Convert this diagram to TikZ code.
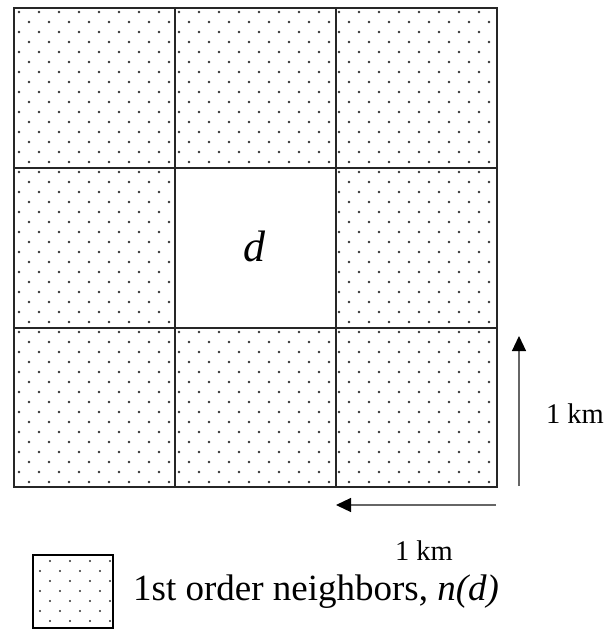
\documentclass[tikz,border=0pt]{standalone}
\usepackage{fontspec}
\setmainfont{Liberation Serif}
\usetikzlibrary{arrows.meta}
\begin{document}
\begin{tikzpicture}[x=1pt, y=-1pt,
  grid line/.style={line width=2pt, black!85},
  dot/.style={fill=black!80},
  scale arrow/.style={line width=1.2pt, black!60, -{Triangle[length=15pt, width=14pt, black]}}]
  \useasboundingbox (0,0) rectangle (614,630);

  % Define grid corners and scale arrow ends
  \coordinate (nw) at (14,8);
  \coordinate (se) at (497,487);
  \coordinate (v0) at (519,486);
  \coordinate (v1) at (519,336);
  \coordinate (h0) at (496,505);
  \coordinate (h1) at (336,505);

  % Dotted fill of the neighbor cells
  \foreach \k in {0,...,47} {
    \pgfmathsetmacro\yy{12+10*\k}
    \pgfmathsetmacro\xo{mod(\k,2)==0 ? 19 : 29}
    \foreach \j in {0,...,23}
      \fill[dot] ({\xo+20*\j},\yy) circle (1.3pt);
  }

  % Central cell d
  \fill[white] (175,168) rectangle (336,328);
  \node[font=\fontsize{44}{44}\selectfont\itshape] (d) at (254,246) {d};

  % Draw the grid lines
  \draw[grid line] (nw) rectangle (se);
  \foreach \x in {175,336} \draw[grid line] (\x,8) -- (\x,487);
  \foreach \y in {168,328} \draw[grid line] (14,\y) -- (497,\y);

  % Scale arrows with labels
  \draw[scale arrow] (v0) -- (v1);
  \draw[scale arrow] (h0) -- (h1);
  \node[anchor=base, font=\fontsize{28.5}{28.5}\selectfont, inner sep=0] (kmv) at (575,423) {1 km};
  \node[anchor=base, font=\fontsize{28.5}{28.5}\selectfont, inner sep=0] (kmh) at (424,560) {1 km};

  % Legend
  \node[draw, line width=1.6pt, minimum width=80pt, minimum height=73pt, inner sep=0] (key) at (73,591.5) {};
  \begin{scope}
    \clip (key.south west) rectangle (key.north east);
    \foreach \k in {0,...,6} {
      \pgfmathsetmacro\yy{561+10*\k}
      \pgfmathsetmacro\xo{mod(\k,2)==0 ? 50 : 40}
      \foreach \j in {0,...,3}
        \fill[dot] ({\xo+20*\j},\yy) circle (1.2pt);
    }
  \end{scope}
  \node[anchor=base west, font=\fontsize{37}{37}\selectfont, inner sep=0] (keytext) at (133,600) {1st order neighbors, \textit{n(d)}};
\end{tikzpicture}
\end{document}
